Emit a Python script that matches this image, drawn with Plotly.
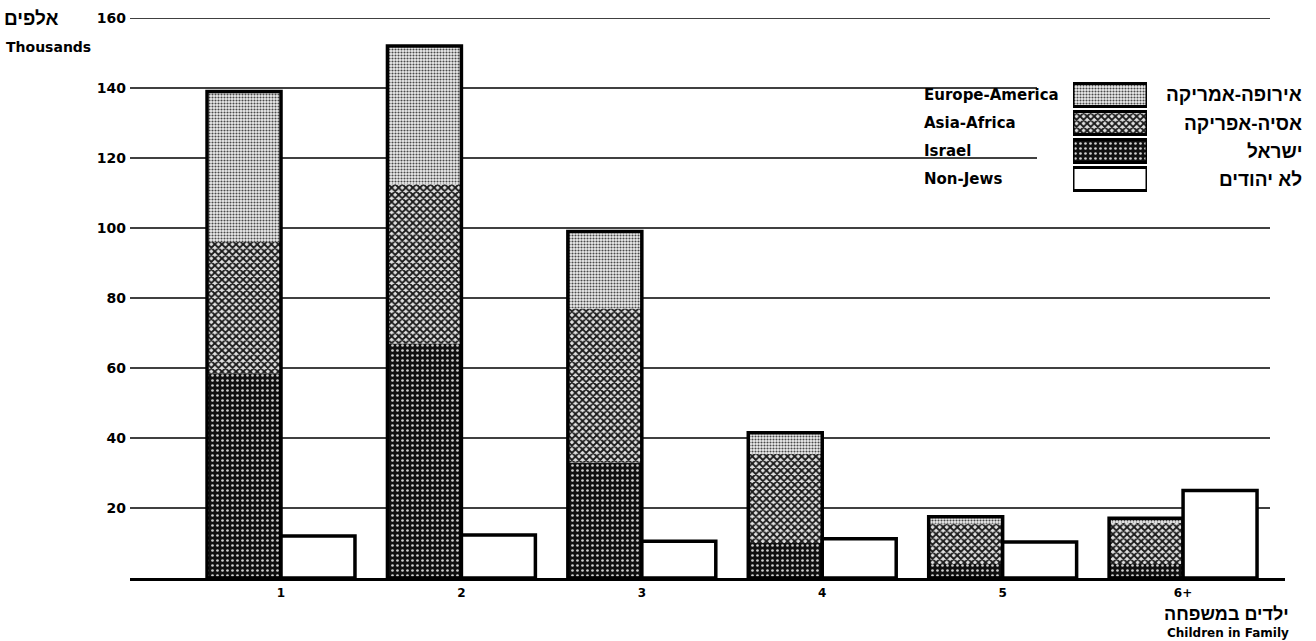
import plotly.graph_objects as go

# Families by number of children, thousands
categories = ["1", "2", "3", "4", "5", "6+"]
israel = [58.5, 67, 33, 10, 4, 4]
asia_africa = [37.5, 45.5, 44, 25.5, 11.5, 11.7]
europe_america = [43, 39.5, 22, 6, 2, 1.4]
non_jews = [12, 12.3, 10.5, 11.2, 10.3, 25]

y_ticks = [20, 40, 60, 80, 100, 120, 140, 160]
short_grid = [120, 140]

legend_en = ["Europe-America", "Asia-Africa", "Israel", "Non-Jews"]
legend_he = ["אירופה-אמריקה", "אסיה-אפריקה", "ישראל", "לא יהודים"]

W, H = 1316, 641
L, R, T, B = 130, 31, 18, 63
PW, PH = W - L - R, H - T - B


def px(x):
    return (x - L) / PW


def py(y):
    return (H - B - y) / PH


EN_FONT = "DejaVu Sans"
HE_FONT = "Liberation Sans"

pat_eu = dict(shape=".", bgcolor="#eeeeee", fgcolor="#4a4a4a", size=3, solidity=0.4, fillmode="replace")
pat_as = dict(shape="x", bgcolor="#e0e0e0", fgcolor="#1a1a1a", size=5, solidity=0.6, fillmode="replace")
pat_is = dict(shape=".", bgcolor="#101010", fgcolor="#d0d0d0", size=5, solidity=0.22, fillmode="replace")
patterns = [pat_eu, pat_as, pat_is, None]

fig = go.Figure()

# stacked Jewish population segments
base_as = israel
base_eu = [a + b for a, b in zip(israel, asia_africa)]
totals = [a + b for a, b in zip(base_eu, europe_america)]
for name, vals, base, pat in [
    ("Israel", israel, [0] * len(israel), pat_is),
    ("Asia-Africa", asia_africa, base_as, pat_as),
    ("Europe-America", europe_america, base_eu, pat_eu),
]:
    fig.add_trace(go.Bar(
        x=categories, y=vals, base=base, name=name, offsetgroup="jews",
        marker=dict(pattern=pat, line=dict(width=0)), hoverinfo="skip",
    ))

# heavy outline around each stacked column
fig.add_trace(go.Bar(
    x=categories, y=totals, base=[0] * len(totals), offsetgroup="jews",
    marker=dict(color="rgba(0,0,0,0)", line=dict(color="black", width=3.5)),
    hoverinfo="skip",
))

fig.add_trace(go.Bar(
    x=categories, y=non_jews, name="Non-Jews", offsetgroup="nonjews",
    marker=dict(color="white", line=dict(color="black", width=3.5)),
    hoverinfo="skip",
))

# key swatches on their own small axes
for name, pat in zip(legend_en, patterns):
    if pat is None:
        mk = dict(color="white", line=dict(color="black", width=3))
    else:
        mk = dict(pattern=pat, line=dict(color="black", width=3))
    fig.add_trace(go.Bar(
        x=[1], y=[name], orientation="h", offsetgroup="key",
        xaxis="x2", yaxis="y2", marker=mk, hoverinfo="skip",
    ))

shapes = []
for v in y_ticks:
    x1 = px(1037) if v in short_grid else px(1270)
    shapes.append(dict(type="line", xref="paper", yref="y", x0=0, x1=x1, y0=v, y1=v,
                       line=dict(color="black", width=1.6), layer="below"))

annotations = []
row_y = [95, 123, 151, 179]
for en, he, yy in zip(legend_en, legend_he, row_y):
    annotations.append(dict(text=en, x=px(922), y=py(yy), xref="paper", yref="paper",
                            xanchor="left", yanchor="middle", showarrow=False,
                            font=dict(family=EN_FONT, size=15, color="black", weight="bold")))
    annotations.append(dict(text=he, x=px(1304), y=py(yy), xref="paper", yref="paper",
                            xanchor="right", yanchor="middle", showarrow=False,
                            font=dict(family=HE_FONT, size=19, color="black", weight="bold")))

annotations += [
    dict(text="אלפים", x=px(61), y=py(18), xref="paper", yref="paper",
         xanchor="right", yanchor="middle", showarrow=False,
         font=dict(family=HE_FONT, size=19, color="black", weight="bold")),
    dict(text="Thousands", x=px(4), y=py(47), xref="paper", yref="paper",
         xanchor="left", yanchor="middle", showarrow=False,
         font=dict(family=EN_FONT, size=14, color="black", weight="bold")),
    dict(text="ילדים במשפחה", x=px(1291), y=py(614), xref="paper", yref="paper",
         xanchor="right", yanchor="middle", showarrow=False,
         font=dict(family=HE_FONT, size=18, color="black", weight="bold")),
    dict(text="Children in Family", x=px(1291), y=py(633), xref="paper", yref="paper",
         xanchor="right", yanchor="middle", showarrow=False,
         font=dict(family=EN_FONT, size=12, color="black", weight="bold")),
]

fig.update_layout(
    width=W, height=H,
    margin=dict(l=L, r=R, t=T, b=B, pad=0, autoexpand=False),
    paper_bgcolor="white", plot_bgcolor="white",
    barmode="group", bargap=0.18, bargroupgap=0,
    showlegend=False,
    xaxis=dict(type="category", categoryorder="array", categoryarray=categories,
               range=[-0.837, 5.565], showgrid=False, zeroline=False, automargin=False,
               showline=True, linecolor="black", linewidth=3, ticks="",
               tickfont=dict(family=EN_FONT, size=12, color="black", weight="bold"),
               ticklabelstandoff=2),
    yaxis=dict(range=[0, 160], tickvals=y_ticks, showgrid=False, zeroline=False,
               showline=False, ticks="", automargin=False,
               tickfont=dict(family=EN_FONT, size=14, color="black", weight="bold"),
               ticklabelstandoff=3),
    xaxis2=dict(domain=[px(1073), px(1147)], range=[0, 1], anchor="y2",
                visible=False, fixedrange=True),
    yaxis2=dict(domain=[py(193), py(81)], anchor="x2", type="category",
                categoryorder="array", categoryarray=legend_en, autorange="reversed",
                visible=False, fixedrange=True),
    shapes=shapes,
    annotations=annotations,
)

fig.write_html("out.html", config={"displayModeBar": False})
